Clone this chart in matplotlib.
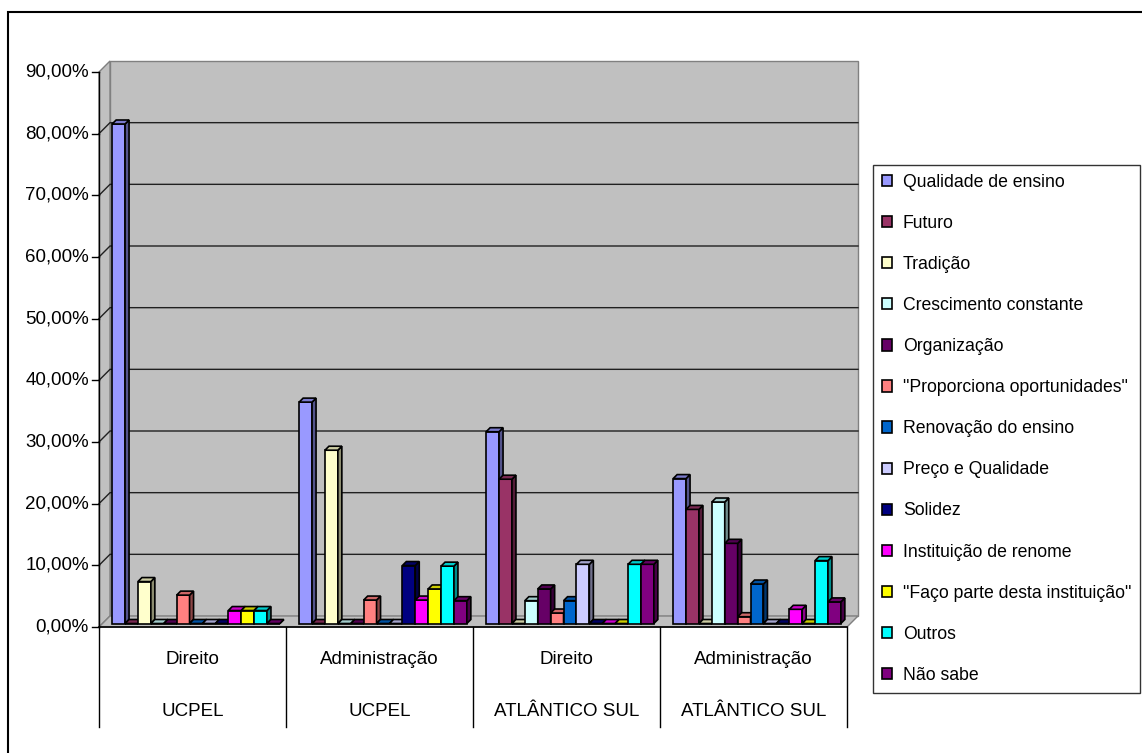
import matplotlib
matplotlib.use('Agg')
import matplotlib.pyplot as plt
from matplotlib.patches import Polygon, Rectangle
import numpy as np

plt.rcParams['font.family'] = ['Liberation Sans', 'DejaVu Sans']

# ---------------- data ----------------
courses = ['Direito', 'Administração', 'Direito', 'Administração']
institutions = ['UCPEL', 'UCPEL', 'ATLÂNTICO SUL', 'ATLÂNTICO SUL']
series_names = ['Qualidade de ensino', 'Futuro', 'Tradição', 'Crescimento constante',
                'Organização', '"Proporciona oportunidades"', 'Renovação do ensino',
                'Preço e Qualidade', 'Solidez', 'Instituição de renome',
                '"Faço parte desta instituição"', 'Outros', 'Não sabe']
qualidade = [81.0, 35.9, 31.1, 23.5]
futuro = [0.0, 0.0, 23.4, 18.5]
tradicao = [6.8, 28.1, 0.0, 0.0]
crescimento = [0.0, 0.0, 3.7, 19.7]
organizacao = [0.0, 0.0, 5.6, 13.0]
proporciona = [4.6, 3.8, 1.7, 1.1]
renovacao = [0.0, 0.0, 3.7, 6.4]
preco = [0.0, 0.0, 9.6, 0.0]
solidez = [0.0, 9.4, 0.0, 0.0]
instituicao = [2.1, 3.8, 0.0, 2.3]
faco = [2.1, 5.6, 0.0, 0.0]
outros = [2.1, 9.3, 9.6, 10.2]
nao_sabe = [0.0, 3.7, 9.6, 3.5]
series_values = [qualidade, futuro, tradicao, crescimento, organizacao, proporciona,
                 renovacao, preco, solidez, instituicao, faco, outros, nao_sabe]
colors = ['#9999FF', '#993366', '#FFFFCC', '#CCFFFF', '#660066', '#FF8080', '#0066CC',
          '#CCCCFF', '#000080', '#FF00FF', '#FFFF00', '#00FFFF', '#800080']
yticks = [0, 10, 20, 30, 40, 50, 60, 70, 80, 90]
ytick_labels = ['0,00%', '10,00%', '20,00%', '30,00%', '40,00%', '50,00%',
                '60,00%', '70,00%', '80,00%', '90,00%']

# ---------------- layout ----------------
W, H = 1142, 753
fig = plt.figure(figsize=(W / 100, H / 100), dpi=100)
fig.patch.set_facecolor('white')

X0, X1, Y0, Y1 = 99, 847, 627, 72   # front plane in pixels
ax = fig.add_axes([X0 / W, (H - Y0) / H, (X1 - X0) / W, (Y0 - Y1) / H])
ngroups = len(courses)
ymax = 90
ax.set_xlim(0, ngroups)
ax.set_ylim(0, ymax)
ax.axis('off')

px_x = ngroups / (X1 - X0)
px_y = ymax / (Y0 - Y1)
DX = 11 * px_x
DY = 11 * px_y


def P(x, y, z):
    return (x + z * DX, y + z * DY)


wall = '#C0C0C0'
wall_edge = '#808080'
# back wall
ax.add_patch(Polygon([P(0, 0, 1), P(ngroups, 0, 1), P(ngroups, ymax, 1), P(0, ymax, 1)],
                     closed=True, fc=wall, ec=wall_edge, lw=1, clip_on=False, zorder=0))
# side wall
ax.add_patch(Polygon([P(0, 0, 0), P(0, 0, 1), P(0, ymax, 1), P(0, ymax, 0)],
                     closed=True, fc=wall, ec=wall_edge, lw=1, clip_on=False, zorder=0))
# floor
ax.add_patch(Polygon([P(0, 0, 0), P(ngroups, 0, 0), P(ngroups, 0, 1), P(0, 0, 1)],
                     closed=True, fc=wall, ec=wall_edge, lw=1, clip_on=False, zorder=0.5))

# gridlines
for v in yticks[1:-1]:
    pts = [P(0, v, 0), P(0, v, 1), P(ngroups, v, 1)]
    ax.plot([p[0] for p in pts], [p[1] for p in pts], color='#202020', lw=1,
            clip_on=False, zorder=1)

# front axis line and ticks
ax.plot([0, 0], [0, ymax], color='black', lw=1, clip_on=False, zorder=6)
for v, lab in zip(yticks, ytick_labels):
    ax.plot([-7 * px_x, 0], [v, v], color='black', lw=1, clip_on=False, zorder=6)
    ax.text(-10 * px_x, v, lab, ha='right', va='center', fontsize=13.5, color='black')

# bars
nser = len(series_names)
bw = 12.9 * px_x
hg = (1 - nser * bw) / 2
zf, zb = 3.5 / 11, 7.5 / 11
xg = np.arange(ngroups)


def shade(c, f):
    r, g, b = matplotlib.colors.to_rgb(c)
    return (r * f, g * f, b * f)


handles = []
for s, (name, vals, col) in enumerate(zip(series_names, series_values, colors)):
    zo = 3 + s * 0.1
    lefts = xg + hg + s * bw
    bars = ax.bar(lefts + zf * DX, vals, width=bw, bottom=zf * DY, align='edge',
                  color=col, edgecolor='black', lw=1.2, label=name, zorder=zo,
                  clip_on=False)
    handles.append(bars)
    for l, v in zip(lefts, vals):
        top = [P(l, v, zf), P(l + bw, v, zf), P(l + bw, v, zb), P(l, v, zb)]
        side = [P(l + bw, 0, zf), P(l + bw, 0, zb), P(l + bw, v, zb), P(l + bw, v, zf)]
        ax.add_patch(Polygon(side, closed=True, fc=shade(col, 0.55), ec='black', lw=1.2,
                             clip_on=False, zorder=zo))
        ax.add_patch(Polygon(top, closed=True, fc=shade(col, 0.8), ec='black', lw=1.2,
                             clip_on=False, zorder=zo))

# category table
tab_bottom = -(727 - Y0) * px_y
ax.plot([0, ngroups], [0, 0], color='black', lw=1.2, clip_on=False, zorder=7)
for g in range(ngroups + 1):
    ax.plot([g, g], [0, tab_bottom], color='black', lw=1, clip_on=False, zorder=7)
for g in range(ngroups):
    ax.text(g + 0.5, -(659 - Y0) * px_y, courses[g], ha='center', va='center',
            fontsize=13.5)
    ax.text(g + 0.5, -(711 - Y0) * px_y, institutions[g], ha='center', va='center',
            fontsize=13.5)

# legend
leg = fig.legend(handles=handles, labels=series_names, loc='upper left',
                 bbox_to_anchor=(873 / W, 1 - 165 / H), fontsize=12.7,
                 frameon=True, fancybox=False, shadow=False,
                 handlelength=0.6, handleheight=0.6, handletextpad=0.6,
                 labelspacing=1.365, borderpad=0.5, borderaxespad=0)
leg.get_frame().set_edgecolor('black')
leg.get_frame().set_linewidth(1)

# outer chart border
fig.patches.append(Rectangle((8 / W, -0.05), 1.2, 1 - 12 / H + 0.05,
                             transform=fig.transFigure, fill=False, ec='black',
                             lw=1.5, zorder=10))

fig.savefig('out.png', dpi=100, facecolor='white')
